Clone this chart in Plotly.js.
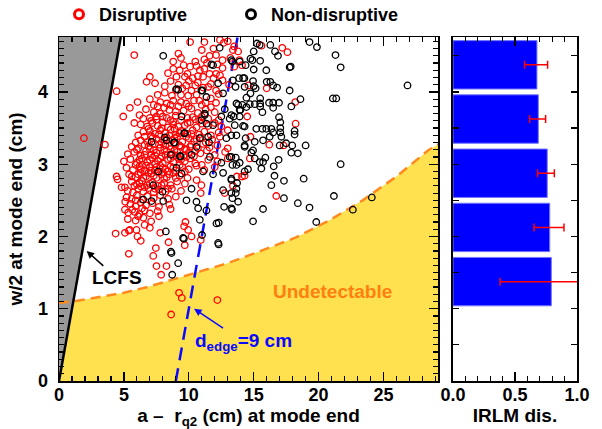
<!DOCTYPE html>
<html>
<head>
<meta charset="utf-8">
<script src="https://cdn.plot.ly/plotly-3.0.1.min.js"></script>
<style>
  html, body { margin: 0; padding: 0; background: #fff; }
  #chart { width: 602px; height: 429px; }
</style>
</head>
<body>
<div id="chart"></div>
<script>
// Disruptive shots: distance of q=2 surface from edge vs island half-width
const disruptiveX = [
  10.1,11.2,12.7,13.0,12.4, 11.0,11.9,13.4,13.8,13.5,15.6,17.2,17.6,9.2,5.8,12.1,11.6,
  9.4,10.5,11.2,8.8,13.9,14.1,12.6,13.2, 9.6,10.1,8.8,9.3,10.85,11.2,12.6,13.5,10.6,
  11.6,12.1,9.05,9.7,11.1,7.0,10.3,11.9,12.4,8.4,
  6.75,7.4,8.15,9.2,9.8,10.5,12.6,11.1,11.5,12.1,8.6,10.0,14.6,16.0,13.1,
  4.44,7.6,8.15,8.7,9.4,9.95,10.6,11.7,10.2,9.0,12.3,
  6.05,7.3,7.8,8.3,9.2,9.8,11.0,11.7,10.4,8.8,7.0,12.1,18.2,5.46,
  7.3,7.8,8.5,10.2,12.0,9.0,9.6,10.7,11.3,6.7,8.1,
  4.95,6.49,7.0,7.5,8.0,8.6,9.0,9.9,10.5,11.0,11.5,12.3,14.5,6.2,
  6.3,6.8,7.2,7.6,8.0,8.4,8.8,9.2,9.7,10.1,10.6,11.0,11.5,12.0,12.5,7.9,5.8,18.23,
  6.1,6.6,7.0,7.4,7.8,8.2,8.6,9.0,9.4,9.9,10.3,10.8,11.2,11.7,12.3,13.0,6.9,8.9,
  1.92,3.54,6.3,6.8,7.5,7.9,8.3,8.7,9.1,9.5,10.0,10.4,10.9,11.3,11.8,12.4,14.75,7.1,5.9,
  5.6,6.1,6.6,7.0,7.4,7.8,8.2,8.6,9.0,9.4,9.8,10.2,10.7,11.1,11.6,12.2,16.2,17.3,13.0,
  5.3,5.8,6.3,6.7,7.1,7.5,7.9,8.3,8.7,9.1,9.6,10.0,10.4,10.9,11.4,12.0,12.8,14.7,6.0,
  5.0,5.5,6.0,6.4,6.8,7.2,7.6,8.0,8.4,8.8,9.2,9.7,10.1,10.5,11.0,11.5,12.2,13.0,7.4,
  5.2,5.7,6.2,6.6,7.0,7.4,7.8,8.2,8.6,9.0,9.5,10.0,10.6,11.2,12.0,6.4,
  4.44,4.51,5.4,5.9,6.3,6.7,7.1,7.5,7.9,8.3,8.8,9.3,9.9,10.6,14.1,14.3,13.7,8.0,
  4.82,5.08,5.6,6.0,6.4,6.8,7.2,7.6,8.1,8.6,9.1,9.7,10.97,13.4,5.8,
  5.3,5.7,6.1,6.5,6.9,7.3,7.7,8.2,8.7,9.4,10.92,12.77,6.3,
  5.2,5.6,6.0,6.4,6.8,7.3,7.8,8.4,9.0,16.74,5.9,
  5.5,5.9,6.3,6.7,7.2,7.7,8.5,5.1,
  5.08,5.33,5.64,5.85,6.2,6.6,7.0,7.6,8.6,6.4,
  5.3,5.9,6.5,7.1,7.7,9.74,6.1,
  5.46,4.36,5.08,5.38,5.97,6.05,7.0,9.64,9.95,10.21,6.6,7.8,
  6.3,5.38,7.46,7.26,7.51,8.28,9.69,10.92,7.87,8.44,9.25,9.46,8.64,12.2,
  6.5,7.2,7.7,8.1,8.5,8.9,9.3,9.8,10.2,10.6,
  6.9,7.3,7.7,8.1,8.5,8.9,9.3,9.7,10.1,10.5,
  6.2,6.6,7.0,7.4,7.8,8.2,8.6,9.0,9.4,9.8,
  5.9,6.3,6.7,7.1,7.5,8.0,8.4,8.8,9.3,9.7,
  5.6,6.1,6.5,6.9,7.3,7.7,8.1,8.5,9.0,
  6.2,6.6,7.0,7.4,7.9,8.4,
  7.1,7.5,8.3,8.8,9.4,9.9,10.3,10.8,
  7.6,8.6,9.4,10.0,10.8,11.3,
  9.5,10.7,11.7,9.9,10.7,11.4,12.2
];
const disruptiveY = [
  4.69,4.69,4.68,4.70,4.72, 4.58,4.60,4.58,4.56,4.63,4.64,4.61,4.55,4.53,4.51,4.51,4.50,
  4.47,4.42,4.45,4.42,4.44,4.37,4.44,4.47, 4.37,4.35,4.32,4.30,4.30,4.32,4.33,4.35,4.36,
  4.25,4.25,4.21,4.21,4.21,4.21,4.19,4.19,4.23,4.26,
  4.14,4.12,4.08,4.10,4.09,4.09,4.16,4.06,4.07,4.02,4.15,4.15,4.09,4.05,4.10,
  4.01,3.96,3.99,3.95,3.96,3.95,3.96,3.91,4.02,4.03,3.97,
  3.86,3.82,3.86,3.84,3.80,3.84,3.82,3.79,3.88,3.88,3.90,3.85,3.86,3.78,
  3.72,3.70,3.75,3.77,3.72,3.73,3.74,3.71,3.76,3.76,3.78,
  3.66,3.63,3.64,3.62,3.66,3.61,3.67,3.64,3.62,3.66,3.63,3.61,3.66,3.68,
  3.55,3.52,3.57,3.53,3.58,3.51,3.55,3.52,3.54,3.58,3.51,3.56,3.53,3.57,3.52,3.50,3.57,3.56,
  3.40,3.38,3.46,3.42,3.47,3.43,3.48,3.41,3.46,3.42,3.47,3.41,3.45,3.40,3.44,3.47,3.49,3.49,
  3.36,3.27,3.33,3.31,3.35,3.30,3.37,3.33,3.38,3.31,3.36,3.32,3.37,3.30,3.34,3.38,3.38,3.39,3.30,
  3.24,3.22,3.27,3.21,3.28,3.23,3.26,3.21,3.28,3.24,3.20,3.27,3.22,3.28,3.23,3.26,3.27,3.26,3.22,
  3.14,3.17,3.12,3.18,3.13,3.16,3.11,3.18,3.14,3.17,3.12,3.16,3.11,3.15,3.19,3.13,3.17,3.08,3.20,
  3.04,3.07,3.02,3.08,3.03,3.09,3.05,3.01,3.07,3.03,3.09,3.04,3.08,3.01,2.99,3.06,3.04,3.08,3.00,
  2.95,2.92,2.97,2.91,2.96,2.92,2.98,2.93,2.97,2.91,2.96,2.93,2.98,2.92,2.96,2.99,
  2.83,2.79,2.86,2.82,2.88,2.83,2.87,2.81,2.86,2.82,2.88,2.84,2.81,2.78,2.83,2.84,2.83,2.89,
  2.68,2.68,2.76,2.72,2.77,2.71,2.75,2.70,2.74,2.71,2.76,2.73,2.71,2.70,2.70,
  2.63,2.61,2.66,2.62,2.67,2.61,2.65,2.62,2.66,2.63,2.60,2.60,2.69,
  2.54,2.52,2.57,2.51,2.56,2.53,2.57,2.52,2.55,2.56,2.50,
  2.45,2.42,2.47,2.43,2.46,2.41,2.44,2.48,
  2.37,2.33,2.37,2.34,2.31,2.36,2.32,2.35,2.38,2.39,
  2.24,2.22,2.26,2.21,2.28,2.20,2.28,
  2.09,2.04,2.05,2.08,2.09,2.00,2.12,2.14,2.09,2.00,2.16,2.05,
  1.94,1.76,1.84,1.73,1.59,1.59,1.88,1.95,1.47,1.92,1.22,1.15,0.92,1.12,
  3.45,3.36,3.41,3.34,3.40,3.36,3.43,3.38,3.42,3.35,
  3.25,3.19,3.27,3.20,3.25,3.19,3.26,3.21,3.24,3.18,
  3.06,3.13,3.06,3.12,3.08,3.13,3.08,3.12,3.06,3.10,
  2.99,2.93,2.98,2.91,2.96,2.95,2.90,2.95,2.99,2.90,
  2.83,2.86,2.81,2.88,2.84,2.89,2.80,2.86,2.81,
  2.74,2.68,2.73,2.66,2.71,2.66,
  3.60,3.66,3.64,3.59,3.61,3.57,3.65,3.60,
  3.80,3.82,3.86,3.80,3.88,3.85,
  4.05,4.13,4.11,4.25,4.22,4.40,4.38
];

// Non-disruptive shots
const nonDisruptiveX = [
  15.25,15.46,16.28,15.0,16.64,16.87,19.3,19.87,21.3,21.7,17.77,17.85,15.97,14.9,15.5,15.0,14.38,14.75,13.92,
  14.28,13.87,14.95,15.0,15.15,16.0,16.28,16.5,16.8,13.6,14.3,17.77,26.85,14.75,14.44,15.5,18.6,21.1,21.36,
  17.9,16.18,16.5,16.95,16.5,15.5,15.5,14.7,15.08,13.8,14.13,13.92,15.67,13.46,13.92,16.95,14.18,17.05,
  15.2,15.67,15.97,16.36,17.05,17.05,18.15,18.15,17.13,16.5,16.23,14.38,13.67,13.28,15.72,17.0,17.5,17.97,
  19.0,15.08,14.3,14.95,14.82,17.9,18.4,
  15.08,15.46,15.72,15.9,15.59,16.92,16.54,21.7,13.28,13.62,13.92,13.67,13.36,14.56,14.3,13.28,13.72,
  13.67,13.62,13.36,13.8,13.28,16.6,16.36,17.33,18.85,17.33,18.4,19.3,21.18,15.72,14.95,19.82,22.64,24.1,
  8.03,12.38,13.28,11.74,12.26,9.05,10.97,12.64,11.36,11.23,12.77,12.51,13.28,7.13,8.15,8.92,9.44,9.64,
  11.36,10.97,11.87,
  8.62,9.38,10.21,11.62,12.51,9.05,7.64,9.44,11.1,11.87,12.64,13.28,12.64,13.28,13.33,7.26,8.03,7.13,
  6.49,9.82,10.21,10.59,11.36,12.72,8.23,9.56,10.85,11.02,12.26,12.13,12.3,8.62,9.18,8.72,12.3,
  13.36,11.87,11.05,9.18,13.4,14.18,13.67,13.97,14.44,11.23,13.15,13.54,14.3,8.28,9.69,10.85,11.49,12.9,
  8.85,10.59,11.56,14.3,9.31,13.15,7.97,10.72,9.62,8.67
];
const nonDisruptiveY = [
  4.67,4.65,4.65,4.56,4.56,4.50,4.69,4.62,4.51,4.34,4.34,4.35,4.30,4.44,4.43,4.31,4.37,4.46,4.42,
  4.19,4.19,4.15,4.08,4.05,4.14,4.14,4.09,4.06,4.07,4.07,4.02,4.09,3.98,3.92,3.91,3.90,3.91,3.91,
  3.80,3.85,3.85,3.85,3.78,3.84,3.80,3.83,3.83,3.82,3.82,3.75,3.72,3.66,3.66,3.65,3.53,3.58,
  3.49,3.49,3.49,3.49,3.50,3.44,3.46,3.41,3.38,3.44,3.38,3.36,3.40,3.40,3.33,3.26,3.29,3.26,
  3.26,3.31,3.26,3.19,3.16,3.16,3.15,
  3.08,3.03,3.03,3.09,2.94,3.06,2.97,3.00,3.10,3.09,3.02,2.99,2.99,2.93,2.90,2.80,2.74,
  2.66,2.60,2.53,2.48,2.39,2.84,2.71,2.77,2.80,2.53,2.46,2.40,2.56,2.38,2.21,2.20,2.37,2.54,
  4.50,4.61,4.44,4.38,4.12,4.04,4.02,3.98,3.93,3.68,3.76,3.66,3.68,3.31,3.37,3.30,3.66,3.43,
  3.56,3.61,3.54,
  3.13,3.11,3.13,3.10,3.02,2.95,2.90,2.87,2.90,2.86,2.88,2.78,2.64,2.60,2.37,2.71,2.49,2.49,
  2.51,2.50,2.66,2.48,2.36,2.41,2.07,1.98,2.23,2.02,1.91,2.18,2.19,1.79,1.63,1.47,1.89,
  4.42,4.37,4.02,4.03,4.16,4.19,3.84,3.75,3.79,3.70,3.63,3.54,3.52,3.33,3.43,3.36,3.38,3.36,
  3.30,3.24,3.30,3.24,3.11,3.10,2.62,2.39,1.97,1.77
];

// Detection threshold boundary (yellow region below is undetectable)
const thresholdX = [0, 1.4, 3, 5, 7, 9, 11, 13, 15.7, 18.3, 20.9, 23.4, 26, 28.5, 29.3];
const thresholdY = [1.08, 1.11, 1.16, 1.22, 1.31, 1.42, 1.52, 1.63, 1.81, 1.99, 2.23, 2.50, 2.83, 3.20, 3.28];

// Last closed flux surface (d_edge = 0) and d_edge = 9 cm line
const lcfsX = [0, 4.76];
const lcfsY = [0, 4.76];
const dEdgeX = [9, 13.76];
const dEdgeY = [0, 4.76];

// IRLM disruption fraction per island-width bin
const binCenters = [4.375, 3.625, 2.875, 2.125, 1.375];
const irlmDis    = [0.677, 0.688, 0.760, 0.780, 0.793];
const errPlus    = [0.086, 0.059, 0.057, 0.115, 0.40];
const errMinus   = [0.100, 0.070, 0.078, 0.127, 0.413];

const X_MAX = 29.2, Y_MAX = 4.76;
const FONT = 'Liberation Sans, Arial, Helvetica, sans-serif';

const traces = [
  { // undetectable region
    x: thresholdX, y: thresholdY, type: 'scatter', mode: 'lines',
    fill: 'tozeroy', fillcolor: '#FFE14F', line: { width: 0 },
    hoverinfo: 'skip', showlegend: false
  },
  { // region outside the LCFS
    x: lcfsX.concat([0]), y: lcfsY.concat([Y_MAX]), type: 'scatter', mode: 'lines',
    fill: 'toself', fillcolor: '#999999', line: { width: 0 },
    hoverinfo: 'skip', showlegend: false
  },
  {
    x: thresholdX, y: thresholdY, type: 'scatter', mode: 'lines',
    line: { color: '#FF8A1E', width: 2.5, dash: '10px,6px' },
    hoverinfo: 'skip', showlegend: false
  },
  {
    x: lcfsX, y: lcfsY, type: 'scatter', mode: 'lines',
    line: { color: 'black', width: 2.5 }, hoverinfo: 'skip', showlegend: false
  },
  {
    x: dEdgeX, y: dEdgeY, type: 'scatter', mode: 'lines',
    line: { color: '#0a0aff', width: 2.5, dash: '13px,8px' }, hoverinfo: 'skip', showlegend: false
  },
  {
    x: disruptiveX, y: disruptiveY, type: 'scatter', mode: 'markers', name: 'Disruptive',
    marker: { symbol: 'circle-open', size: 6.5, color: '#FF0000', line: { width: 1.3 } },
    showlegend: false
  },
  {
    x: nonDisruptiveX, y: nonDisruptiveY, type: 'scatter', mode: 'markers', name: 'Non-disruptive',
    marker: { symbol: 'circle-open', size: 6.5, color: '#000000', line: { width: 1.3 } },
    showlegend: false
  },
  // legend entries
  {
    x: [null], y: [null], type: 'scatter', mode: 'markers', name: 'Disruptive',
    marker: { symbol: 'circle-open', size: 9, color: '#FF0000', line: { width: 3 } }
  },
  {
    x: [null], y: [null], type: 'scatter', mode: 'markers', name: 'Non-disruptive',
    marker: { symbol: 'circle-open', size: 9, color: '#000000', line: { width: 3 } }
  },
  {
    x: irlmDis, y: binCenters, type: 'bar', orientation: 'h', width: 0.67,
    xaxis: 'x2', yaxis: 'y2',
    marker: { color: '#0000FF', line: { color: '#7777ff', width: 1 } },
    error_x: { type: 'data', symmetric: false, array: errPlus, arrayminus: errMinus,
               color: '#FF0000', thickness: 1.5, width: 4 },
    showlegend: false
  }
];

const tickFont = { family: FONT, size: 18, color: 'black', weight: 'bold' };
const titleFont = { family: FONT, size: 19, color: 'black', weight: 'bold' };
const frame = { showline: true, linecolor: 'black', linewidth: 1.5, mirror: 'allticks',
                ticks: 'inside', tickcolor: 'black', tickwidth: 1.2, showgrid: false, zeroline: false };

const layout = {
  width: 602, height: 429,
  margin: { l: 59, r: 25, t: 37, b: 48, autoexpand: false },
  paper_bgcolor: 'white', plot_bgcolor: 'white',
  font: { family: FONT, size: 19, color: 'black' },
  showlegend: true,
  legend: {
    orientation: 'h', x: 0, xanchor: 'left', y: 1.065, yanchor: 'middle',
    font: { family: FONT, size: 18, color: 'black', weight: 'bold' },
    bgcolor: 'rgba(0,0,0,0)', entrywidth: 127, entrywidthmode: 'pixels'
  },
  xaxis: Object.assign({}, frame, {
    domain: [0, 0.7317], range: [0, X_MAX], tick0: 0, dtick: 5, ticklen: 9,
    minor: { dtick: 1, ticklen: 5, ticks: 'inside', tickcolor: 'black', tickwidth: 1.2, showgrid: false },
    tickfont: tickFont, ticklabelstandoff: -3,
    title: { text: 'a –\u00a0\u00a0r<sub>q2</sub> (cm) at mode end', font: titleFont, standoff: 0 }
  }),
  yaxis: Object.assign({}, frame, {
    range: [0, Y_MAX], tick0: 0, dtick: 1, ticklen: 9,
    minor: { dtick: 0.1, ticklen: 5, ticks: 'inside', tickcolor: 'black', tickwidth: 1.2, showgrid: false },
    tickfont: tickFont, ticklabelstandoff: 6,
    title: { text: 'w/2 at mode end (cm)', font: titleFont, standoff: 10 }
  }),
  xaxis2: Object.assign({}, frame, {
    domain: [0.7606, 1], range: [0, 1], anchor: 'y2', tickvals: [0, 0.5, 1], ticktext: ['0.0', '0.5', '1.0'],
    ticklen: 9,
    minor: { dtick: 0.1, ticklen: 5, ticks: 'inside', tickcolor: 'black', tickwidth: 1.2, showgrid: false },
    tickfont: tickFont, ticklabelstandoff: -3,
    title: { text: 'IRLM dis.', font: titleFont, standoff: 0 }
  }),
  yaxis2: Object.assign({}, frame, {
    anchor: 'x2', range: [0, Y_MAX], tick0: 0, dtick: 0.5, ticklen: 6, showticklabels: false
  }),
  annotations: [
    {
      x: 2.13, y: 1.80, xref: 'x', yref: 'y', text: '<b>LCFS</b>',
      showarrow: true, ax: 30, ay: 27, arrowhead: 2, arrowsize: 1, arrowwidth: 1.5,
      arrowcolor: 'black', font: { family: FONT, size: 19, color: 'black' }
    },
    {
      x: 10.41, y: 1.0, xref: 'x', yref: 'y', text: '<b>d<sub>edge</sub>=9 cm</b>',
      showarrow: true, ax: 49, ay: 33, arrowhead: 2, arrowsize: 1, arrowwidth: 1.5,
      arrowcolor: '#0a0aff', font: { family: FONT, size: 19, color: '#0a0aff' }
    },
    {
      x: 21.08, y: 1.235, xref: 'x', yref: 'y', text: '<b>Undetectable</b>', showarrow: false,
      font: { family: FONT, size: 19, color: '#FF7F10' }
    }
  ]
};

Plotly.newPlot('chart', traces, layout, { displayModeBar: false, staticPlot: true });
</script>
</body>
</html>
